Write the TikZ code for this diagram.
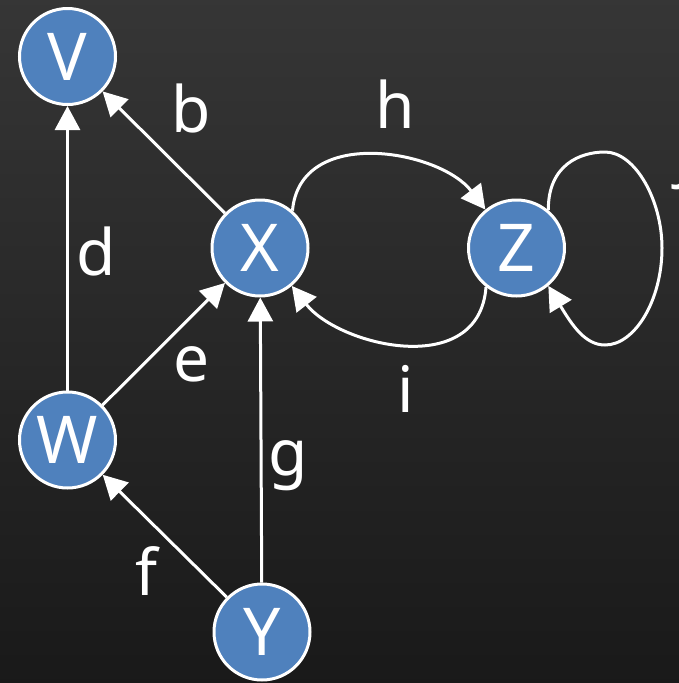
\documentclass[tikz,border=0pt]{standalone}
\usepackage{fontspec}
\setmainfont{Noto Sans}
\usetikzlibrary{arrows.meta}
\definecolor{nodeblue}{RGB}{79,129,189}
\definecolor{bgA}{RGB}{62,62,62}
\definecolor{bgB}{RGB}{17,17,17}
\begin{document}
\begin{tikzpicture}[x=1pt,y=1pt,
  vtx/.style={circle, draw=white, line width=3pt, fill=nodeblue, minimum size=96pt,
              inner sep=0pt, text=white, font=\fontsize{66}{66}\selectfont},
  lbl/.style={text=white, font=\fontsize{64}{64}\selectfont, inner sep=0pt, anchor=base},
  arr/.style={draw=white, line width=3pt, -{Triangle[width=25pt,length=24pt]}}]
\useasboundingbox (0,0) rectangle (679,-683);
\clip (0,0) rectangle (679,-683);
\shade[shading angle=45, top color=bgA, bottom color=bgB] (-200,200) rectangle (879,-883);

\node[vtx] (V) at (67.5,-56.5) {V};
\node[vtx] (X) at (260,-248) {X};
\node[vtx] (Z) at (516.5,-248) {Z};
\node[vtx] (W) at (67.5,-440) {W};
\node[vtx] (Y) at (262,-632) {Y};

\draw[arr] (X) -- (V);
\draw[arr] (W) -- (V);
\draw[arr] (W) -- (X);
\draw[arr] (Y) -- (W);
\draw[arr] (Y) -- (X);
\draw[arr] (X.49) .. controls (300,-125) and (440,-150) .. (Z.129);
\draw[arr] (Z.232) .. controls (479,-380) and (339,-346) .. (X.310);
\draw[arr] (Z.50) .. controls (548,-165) and (580,-152) .. (605,-152)
  .. controls (635,-152) and (662,-200) .. (662,-248)
  .. controls (662,-300) and (635,-345) .. (605,-345)
  .. controls (585,-345) and (572,-325) .. (Z.310);

\node[lbl] (lb) at (191.5,-132) {b};
\node[lbl] (lh) at (395,-128) {h};
\node[lbl] (ld) at (96,-275) {d};
\node[lbl] (le) at (191.5,-381) {e};
\node[lbl] (li) at (406,-412) {i};
\node[lbl] (lg) at (288.5,-475) {g};
\node[lbl] (lf) at (147,-595) {f};
\node[lbl, anchor=base west] (lj) at (675,-174) {j};
\end{tikzpicture}
\end{document}
